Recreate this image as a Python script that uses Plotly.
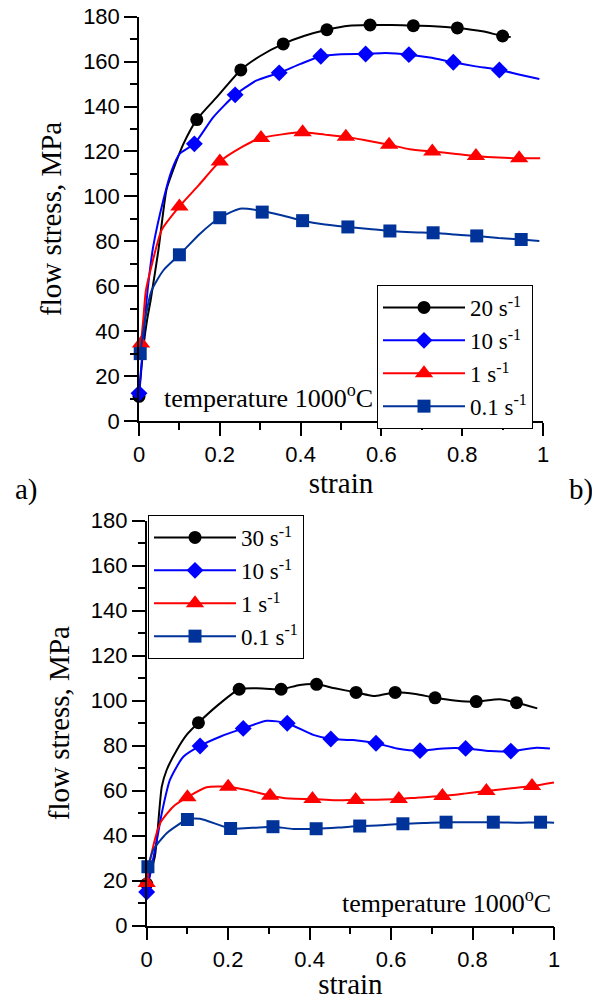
import plotly.graph_objects as go

# ---------------- data: chart a) (top) ----------------
a20_curve_x = [0, 0.011, 0.02, 0.029, 0.048, 0.068, 0.081, 0.11, 0.143, 0.192, 0.252, 0.30, 0.357, 0.41, 0.465, 0.52, 0.572, 0.625, 0.679, 0.73, 0.788, 0.85, 0.9, 0.92]
a20_curve_y = [11, 33, 45, 54, 76, 103, 110, 123.4, 134.2, 144.1, 156.3, 162.5, 167.9, 171.5, 174.2, 176, 176.3, 176.3, 176, 175.8, 175, 173.5, 171.4, 171]
a20_mark_x = [0, 0.143, 0.252, 0.357, 0.465, 0.572, 0.679, 0.788, 0.9]
a20_mark_y = [11, 134.2, 156.3, 167.9, 174.2, 176.3, 176, 175, 171.4]

a10_curve_x = [0, 0.007, 0.015, 0.023, 0.035, 0.06, 0.081, 0.101, 0.137, 0.184, 0.238, 0.29, 0.347, 0.40, 0.45, 0.5, 0.561, 0.61, 0.668, 0.72, 0.778, 0.83, 0.892, 0.94, 0.991]
a10_curve_y = [12.3, 27, 46, 61, 77.5, 98.2, 111.6, 119, 123.4, 135.3, 145.2, 151.5, 155, 159, 162.4, 163.3, 163.4, 163.8, 163.1, 161.8, 159.7, 158, 156.3, 154.3, 152.3]
a10_mark_x = [0, 0.137, 0.238, 0.347, 0.45, 0.561, 0.668, 0.778, 0.892]
a10_mark_y = [12.3, 123.4, 145.2, 155, 162.4, 163.4, 163.1, 159.7, 156.3]

a1_curve_x = [0.005, 0.011, 0.017, 0.031, 0.056, 0.1, 0.148, 0.2, 0.25, 0.302, 0.35, 0.405, 0.46, 0.512, 0.56, 0.619, 0.67, 0.726, 0.78, 0.834, 0.89, 0.941, 0.993]
a1_curve_y = [34.5, 46, 58, 69, 85, 95.5, 105, 115.5, 121.5, 126, 127.5, 128.5, 127.5, 126.5, 125, 123, 121, 120, 119, 118, 117.3, 117, 117]
a1_mark_x = [0.005, 0.1, 0.2, 0.302, 0.405, 0.512, 0.619, 0.726, 0.834, 0.941]
a1_mark_y = [34.5, 95.5, 115.5, 126, 128.5, 126.5, 123, 120, 118, 117]

a01_curve_x = [0.003, 0.015, 0.031, 0.06, 0.1, 0.151, 0.2, 0.25, 0.305, 0.355, 0.405, 0.46, 0.517, 0.57, 0.621, 0.675, 0.728, 0.78, 0.836, 0.89, 0.946, 0.991]
a01_curve_y = [30, 45, 58, 67, 74, 83.4, 90.5, 94.5, 93.5, 91.5, 89.2, 87.5, 86.4, 85.5, 84.6, 84, 83.8, 83, 82.4, 81.5, 80.8, 80.1]
a01_mark_x = [0.003, 0.1, 0.2, 0.305, 0.405, 0.517, 0.621, 0.728, 0.836, 0.946]
a01_mark_y = [30, 74, 90.5, 93, 89.2, 86.4, 84.6, 83.8, 82.4, 80.8]

# ---------------- data: chart b) (bottom) ----------------
b30_curve_x = [0, 0.02, 0.037, 0.049, 0.074, 0.098, 0.127, 0.18, 0.227, 0.27, 0.33, 0.376, 0.417, 0.462, 0.514, 0.561, 0.61, 0.66, 0.708, 0.761, 0.809, 0.867, 0.908, 0.959]
b30_curve_y = [18.5, 30.7, 61.8, 69.2, 78.1, 84.8, 90.2, 98.8, 105.1, 105.5, 105.1, 107, 107.3, 105.5, 103.7, 102.1, 103.7, 103, 101.3, 100, 99.6, 100.6, 99.1, 96.6]
b30_mark_x = [0, 0.127, 0.227, 0.33, 0.417, 0.514, 0.61, 0.708, 0.809, 0.908]
b30_mark_y = [18.5, 90.2, 105.1, 105.1, 107.3, 103.7, 103.7, 101.3, 99.6, 99.1]

b10_curve_x = [0, 0.025, 0.037, 0.057, 0.09, 0.131, 0.18, 0.237, 0.295, 0.345, 0.409, 0.452, 0.507, 0.563, 0.614, 0.671, 0.728, 0.783, 0.843, 0.894, 0.957, 0.99]
b10_curve_y = [15, 38.1, 50, 64.8, 75.1, 79.9, 84, 87.7, 91.1, 90, 84.8, 83, 82.5, 81.1, 78.8, 77.8, 78.8, 78.8, 77.6, 77.6, 79.1, 78.8]
b10_mark_x = [0, 0.131, 0.237, 0.345, 0.452, 0.563, 0.671, 0.783, 0.894]
b10_mark_y = [15, 79.9, 87.7, 90, 83, 81.1, 77.8, 78.8, 77.6]

b1_curve_x = [0, 0.012, 0.033, 0.065, 0.1, 0.147, 0.2, 0.246, 0.303, 0.35, 0.407, 0.46, 0.513, 0.565, 0.619, 0.67, 0.726, 0.78, 0.834, 0.89, 0.946, 1.0]
b1_curve_y = [19, 32.2, 45.5, 52.9, 57.1, 61.5, 61.8, 60.3, 57.8, 56.5, 56.3, 55.8, 55.9, 56, 56.3, 57, 57.6, 58.7, 59.9, 61, 62.1, 63.7]
b1_mark_x = [0, 0.1, 0.2, 0.303, 0.407, 0.513, 0.619, 0.726, 0.834, 0.946]
b1_mark_y = [19, 57.1, 61.8, 57.8, 56.3, 55.9, 56.3, 57.6, 59.9, 62.1]

b01_curve_x = [0.003, 0.016, 0.049, 0.1, 0.131, 0.206, 0.26, 0.31, 0.36, 0.416, 0.47, 0.523, 0.575, 0.629, 0.68, 0.735, 0.79, 0.851, 0.91, 0.967, 1.0]
b01_curve_y = [26.2, 33.6, 41.1, 47.2, 47.5, 43.2, 43.5, 44, 43, 43.1, 43.6, 44.3, 44.6, 45.3, 45.6, 46, 46, 46, 45.8, 46, 45.8]
b01_mark_x = [0.003, 0.1, 0.206, 0.31, 0.416, 0.523, 0.629, 0.735, 0.851, 0.967]
b01_mark_y = [26.2, 47.2, 43.2, 44, 43.1, 44.3, 45.3, 46, 46, 46]

labels_a = ["20 s<sup>-1</sup>", "10 s<sup>-1</sup>", "1 s<sup>-1</sup>", "0.1 s<sup>-1</sup>"]
labels_b = ["30 s<sup>-1</sup>", "10 s<sup>-1</sup>", "1 s<sup>-1</sup>", "0.1 s<sup>-1</sup>"]
x_title = "strain"
y_title = "flow stress, MPa"
temp_text = "temperature 1000<sup>o</sup>C"

# ---------------- styles ----------------
SERIF = "Liberation Serif"
SANS = "Liberation Sans"
styles = [
    dict(color="#000000", symbol="circle", size=13, width=2),
    dict(color="#0000FF", symbol="diamond", size=13, width=2),
    dict(color="#FF0000", symbol="triangle-up", size=16, width=2),
    dict(color="#003399", symbol="square", size=13, width=2),
]

# page has an 8px body margin: the figure is sized to fit the window exactly
OFF = 8
W, H = 600 - OFF, 1000 - OFF
def px_x(p):
    return (p - OFF) / W
def px_y(p):
    return 1 - (p - OFF) / H

fig = go.Figure()

series_a = [(a20_curve_x, a20_curve_y, a20_mark_x, a20_mark_y),
            (a10_curve_x, a10_curve_y, a10_mark_x, a10_mark_y),
            (a1_curve_x, a1_curve_y, a1_mark_x, a1_mark_y),
            (a01_curve_x, a01_curve_y, a01_mark_x, a01_mark_y)]
series_b = [(b30_curve_x, b30_curve_y, b30_mark_x, b30_mark_y),
            (b10_curve_x, b10_curve_y, b10_mark_x, b10_mark_y),
            (b1_curve_x, b1_curve_y, b1_mark_x, b1_mark_y),
            (b01_curve_x, b01_curve_y, b01_mark_x, b01_mark_y)]

for axes, legend_name, series, labels in [(("x", "y"), "legend", series_a, labels_a),
                                           (("x2", "y2"), "legend2", series_b, labels_b)]:
    xa, ya = axes
    for (cx, cy, mx, my), st, lab in zip(series, styles, labels):
        fig.add_trace(go.Scatter(x=cx, y=cy, mode="lines", xaxis=xa, yaxis=ya,
                                 line=dict(color=st["color"], width=st["width"], shape="spline", smoothing=0.6),
                                 showlegend=False, hoverinfo="skip", cliponaxis=False))
        fig.add_trace(go.Scatter(x=mx, y=my, mode="markers", xaxis=xa, yaxis=ya,
                                 marker=dict(color=st["color"], symbol=st["symbol"], size=st["size"]),
                                 showlegend=False, cliponaxis=False, name=lab))
        # legend entry
        fig.add_trace(go.Scatter(x=[None], y=[None], mode="lines+markers", xaxis=xa, yaxis=ya,
                                 line=dict(color=st["color"], width=st["width"]),
                                 marker=dict(color=st["color"], symbol=st["symbol"], size=st["size"]),
                                 name=lab, legend=legend_name, showlegend=True))

axis_common = dict(showline=True, linecolor="black", linewidth=1.5, ticks="outside", ticklen=13,
                   tickwidth=1.5, tickcolor="black", showgrid=False, zeroline=False, mirror=False,
                   automargin=False, ticklabeloverflow="allow",
                   tickfont=dict(family=SANS, size=22, color="black"))
xaxis_common = dict(axis_common, range=[0, 1], dtick=0.2, tick0=0,
                    minor=dict(dtick=0.1, ticklen=7, ticks="outside", tickcolor="black", tickwidth=1.5),
                    title=dict(text=x_title, font=dict(family=SERIF, size=29, color="black"), standoff=2))
yaxis_common = dict(axis_common, range=[0, 180], dtick=20, tick0=0,
                    minor=dict(dtick=10, ticklen=7, ticks="outside", tickcolor="black", tickwidth=1.5),
                    title=dict(text=y_title, font=dict(family=SERIF, size=29, color="black"), standoff=13))

legend_font = dict(family=SERIF, size=23, color="black")
fig.update_layout(
    width=W, height=H, margin=dict(l=0, r=0, t=0, b=0, autoexpand=False),
    font=dict(family=SERIF, color="black"),
    paper_bgcolor="white", plot_bgcolor="white",
    xaxis=dict(xaxis_common, domain=[px_x(139), px_x(543)], anchor="y"),
    yaxis=dict(yaxis_common, domain=[px_y(421), px_y(16.7)], anchor="x"),
    xaxis2=dict(xaxis_common, domain=[px_x(146.7), px_x(554)], anchor="y2"),
    yaxis2=dict(yaxis_common, domain=[px_y(925.7), px_y(520.7)], anchor="x2"),
    legend=dict(x=px_x(377), y=px_y(285), xanchor="left", yanchor="top", bordercolor="black",
                borderwidth=1, bgcolor="white", itemsizing="trace", itemwidth=82,
                font=legend_font, tracegroupgap=0),
    legend2=dict(x=px_x(148), y=px_y(515), xanchor="left", yanchor="top", bordercolor="black",
                 borderwidth=1, bgcolor="white", itemsizing="trace", itemwidth=82,
                 font=legend_font, tracegroupgap=0),
    annotations=[
        dict(text=temp_text, xref="paper", yref="paper", x=px_x(162), y=px_y(396), xanchor="left",
             yanchor="middle", showarrow=False, font=dict(family=SERIF, size=26, color="black")),
        dict(text=temp_text, xref="paper", yref="paper", x=px_x(553), y=px_y(901), xanchor="right",
             yanchor="middle", showarrow=False, font=dict(family=SERIF, size=26, color="black")),
        dict(text="a)", xref="paper", yref="paper", x=px_x(13), y=px_y(490), xanchor="left",
             yanchor="middle", showarrow=False, font=dict(family=SERIF, size=29, color="black")),
        dict(text="b)", xref="paper", yref="paper", x=px_x(595), y=px_y(490), xanchor="right",
             yanchor="middle", showarrow=False, font=dict(family=SERIF, size=29, color="black")),
    ],
)

fig.write_html("out.html")
